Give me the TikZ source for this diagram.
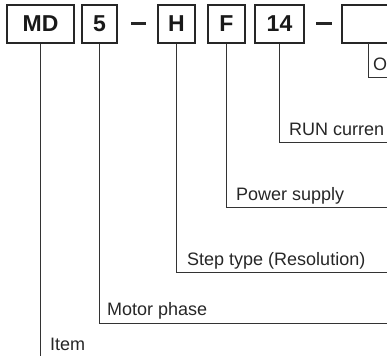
\documentclass[tikz,border=0pt]{standalone}
\usepackage{fontspec}
\setmainfont{Liberation Sans}
\usetikzlibrary{positioning}
\begin{document}
\begin{tikzpicture}[x=1pt, y=-1pt,
		feld/.style={draw=black!85, line width=1.2pt, minimum height=38pt, inner sep=0pt,
			font=\bfseries\fontsize{23}{23}\selectfont, text=black!90},
		leitung/.style={draw=black!80, line width=0.9pt},
		beschr/.style={anchor=base west, inner sep=0pt, font=\fontsize{18}{18}\selectfont, text=black!85}]
		% Bildbereich
		\useasboundingbox (0,0) rectangle (387,355);
		\clip (0,0) rectangle (387,355);
		% Kaestchen der Typenbezeichnung
		\node[feld, minimum width=67pt] (md) at (40.5,24) {MD};
		\node[feld, minimum width=35pt] (phase) at (99.5,24) {5};
		\node[inner sep=0pt, text=black!85] (strichA) at (138.5,23.5) {\rule{15pt}{3pt}};
		\node[feld, minimum width=37pt] (hh) at (176.5,24) {H};
		\node[feld, minimum width=37pt] (ff) at (226.5,24) {F};
		\node[feld, minimum width=49pt] (strom) at (279.5,24) {14};
		\node[inner sep=0pt, text=black!85] (strichB) at (324,23.5) {\rule{16pt}{3pt}};
		\node[feld, minimum width=70pt] (opt) at (377,24) {};
		% Unterkaestchen (abgeschnitten)
		\coordinate (oa) at (368,43);
		\coordinate (ob) at (368,77);
		\coordinate (oc) at (400,77);
		\draw[leitung] (oa) -- (ob) -- (oc);
		\node[beschr] (optlbl) at (373,71) {O};
		% Ecken der Fuehrungslinien
		\coordinate (ka) at (md.south |- 0,360);
		\coordinate (kb) at (phase.south |- 0,323);
		\coordinate (kbr) at (400,323);
		\coordinate (kc) at (hh.south |- 0,272);
		\coordinate (kcr) at (400,272);
		\coordinate (kd) at (ff.south |- 0,207);
		\coordinate (kdr) at (400,207);
		\coordinate (ke) at (strom.south |- 0,142);
		\coordinate (ker) at (400,142);
		% Fuehrungslinien zeichnen
		\draw[leitung] (md.south) -- (ka);
		\draw[leitung] (phase.south) -- (kb) -- (kbr);
		\draw[leitung] (hh.south) -- (kc) -- (kcr);
		\draw[leitung] (ff.south) -- (kd) -- (kdr);
		\draw[leitung] (strom.south) -- (ke) -- (ker);
		% Beschriftung
		\node[beschr] (lblitem) at (50,350) {Item};
		\node[beschr] (lblphase) at (107,315) {Motor phase};
		\node[beschr] (lblstep) at (187,265) {Step type (Resolution)};
		\node[beschr] (lblpower) at (236,200) {Power supply};
		\node[beschr] (lblrun) at (289,136) {RUN curren};
	\end{tikzpicture}
\end{document}
